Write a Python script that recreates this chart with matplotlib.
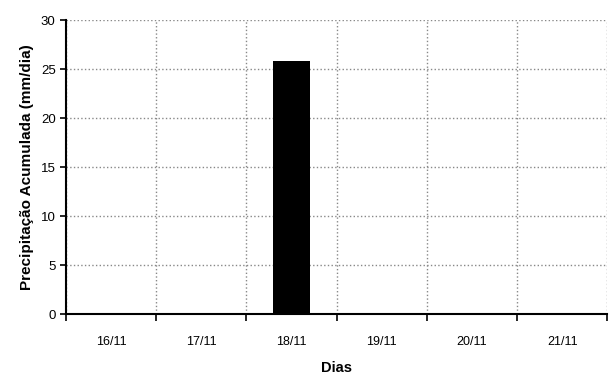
import matplotlib
matplotlib.use("Agg")
import matplotlib.pyplot as plt
import numpy as np

days = ["16/11", "17/11", "18/11", "19/11", "20/11", "21/11"]
precip = [0, 0, 25.8, 0, 0, 0]

plt.rcParams['font.family'] = ['Liberation Sans Narrow', 'Liberation Sans', 'DejaVu Sans']

fig = plt.figure(figsize=(6.13, 3.82), dpi=100)
ax = fig.add_axes([0.1077, 0.178, 0.883, 0.7696])

x = np.arange(len(days))
ax.bar(x, precip, width=0.41, color='black', zorder=3)

ax.set_xlim(-0.5, len(days) - 0.5)
ax.set_ylim(0, 30)
ax.set_yticks(np.arange(0, 31, 5))
ax.set_xticks(x)
ax.set_xticklabels(days, fontsize=9)
ax.set_xticks(np.arange(-0.5, len(days)), minor=True)
ax.tick_params(axis='x', which='major', length=0, pad=16)
ax.tick_params(axis='x', which='minor', length=5, width=1.2, direction='out')
ax.tick_params(axis='y', length=4, width=1.2, direction='out', labelsize=9.5)

ax.grid(True, axis='y', which='major', linestyle=':', color='#888888', linewidth=1, zorder=0)
ax.grid(True, axis='x', which='minor', linestyle=':', color='#888888', linewidth=1, zorder=0)

for s in ['top', 'right']:
    ax.spines[s].set_visible(False)
for s in ['left', 'bottom']:
    ax.spines[s].set_linewidth(1.5)

ax.set_ylabel("Precipitação Acumulada (mm/dia)", fontsize=11, fontweight='bold', labelpad=5)
ax.set_xlabel("Dias", fontsize=10.5, fontweight='bold', labelpad=9)

fig.savefig("out.png", dpi=100)
